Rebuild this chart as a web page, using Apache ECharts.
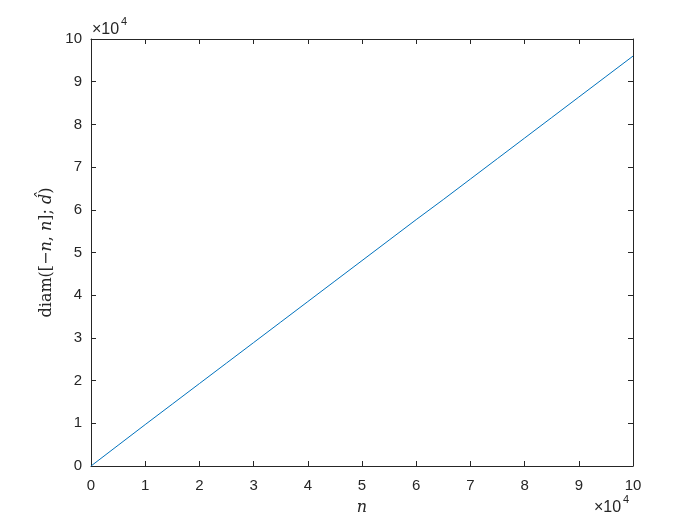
<!DOCTYPE html>
<html>
<head>
<meta charset="utf-8">
<style>
  html, body { margin: 0; padding: 0; background: #fff; }
  #main { width: 700px; height: 525px; }
</style>
<script src="https://cdn.jsdelivr.net/npm/echarts@6/dist/echarts.min.js"></script>
</head>
<body>
<div id="main"></div>
<script>
// n values and diam values
const nValues = [0, 5000, 10000, 15000, 20000, 25000, 30000, 35000, 40000, 45000, 50000,
  55000, 60000, 65000, 70000, 75000, 80000, 85000, 90000, 95000, 100000];
const diamValues = [0, 4850, 9700, 14500, 19300, 24100, 28900, 33700, 38500, 43300, 48100,
  52900, 57700, 62400, 67200, 72000, 76800, 81600, 86400, 91200, 96000];
const tickLabels = ['0', '1', '2', '3', '4', '5', '6', '7', '8', '9', '10'];

const axisColor = '#262626';
const font = 'Liberation Sans, Arial, sans-serif';

const chart = echarts.init(document.getElementById('main'), null, { renderer: 'canvas' });

let lineData = [];
for (let i = 0; i < nValues.length; i++) {
  lineData.push([nValues[i], diamValues[i]]);
}

function axisBase(show, margin) {
  return {
    type: 'value',
    min: 0,
    max: 100000,
    interval: 10000,
    axisLine: { show: true, onZero: false, lineStyle: { color: axisColor, width: 1 } },
    axisTick: { show: true, inside: true, length: 5, lineStyle: { color: axisColor } },
    splitLine: { show: false },
    axisLabel: {
      show: show,
      margin: margin,
      color: axisColor,
      fontFamily: font,
      fontSize: 15,
      formatter: (v) => tickLabels[Math.round(v / 10000)]
    }
  };
}

const option = {
  animation: false,
  backgroundColor: '#fff',
  grid: { left: 91, right: 67, top: 39, bottom: 59 },
  xAxis: [
    Object.assign(axisBase(true, 12), {
      position: 'bottom',
      name: 'n',
      nameLocation: 'middle',
      nameGap: 34,
      nameTextStyle: { color: axisColor, fontFamily: 'DejaVu Serif, serif', fontStyle: 'italic', fontSize: 16 }
    }),
    Object.assign(axisBase(false, 8), { position: 'top' })
  ],
  yAxis: [
    Object.assign(axisBase(true, 9), {
      position: 'left',
      name: '{r|diam([−}{i|n}{r|, }{i|n}{r|]; }{i|d\u0302}{r|)}',
      nameLocation: 'middle',
      nameGap: 33,
      nameRotate: 90,
      nameTextStyle: {
        rich: {
          r: { fontFamily: 'DejaVu Serif, serif', fontSize: 16, color: axisColor },
          i: { fontFamily: 'DejaVu Serif, serif', fontStyle: 'italic', fontSize: 16, color: axisColor }
        }
      }
    }),
    Object.assign(axisBase(false, 8), { position: 'right' })
  ],
  graphic: [
    { type: 'text', left: 92, top: 22, style: { text: '×10', fill: axisColor, font: '16px ' + font } },
    { type: 'text', left: 121, top: 16, style: { text: '4', fill: axisColor, font: '11px ' + font } },
    { type: 'text', left: 594, top: 500, style: { text: '×10', fill: axisColor, font: '16px ' + font } },
    { type: 'text', left: 623, top: 494, style: { text: '4', fill: axisColor, font: '11px ' + font } }
  ],
  series: [
    {
      type: 'line',
      data: lineData,
      showSymbol: false,
      lineStyle: { color: '#0072BD', width: 1 },
      itemStyle: { color: '#0072BD' }
    }
  ]
};

chart.setOption(option);
</script>
</body>
</html>
